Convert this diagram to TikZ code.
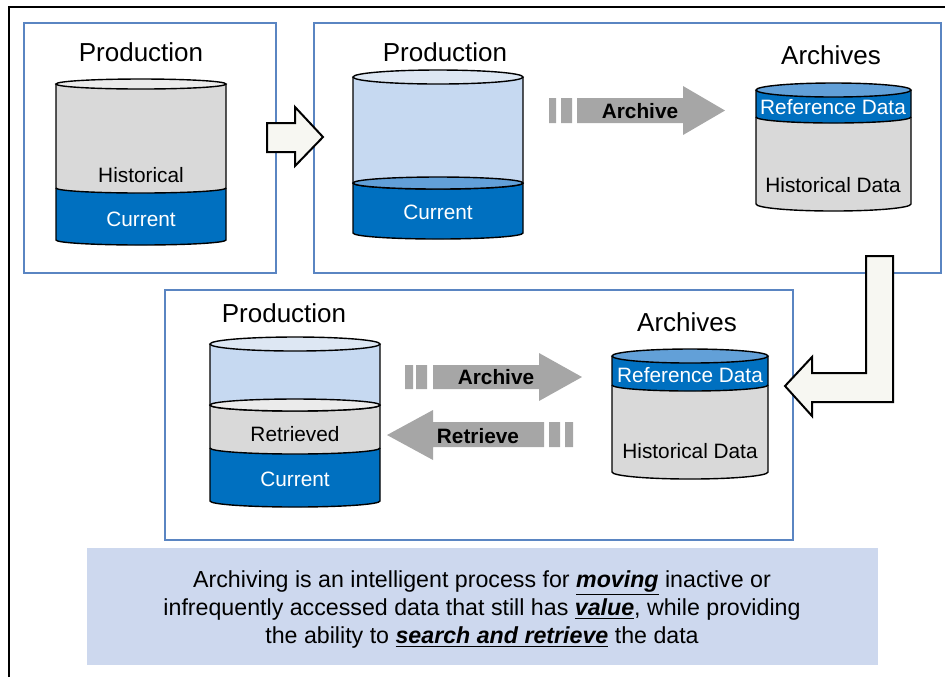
\documentclass[tikz,border=0pt]{standalone}
\usepackage{fontspec}
\setmainfont{Liberation Sans}

\definecolor{boxblue}{HTML}{5A85C2}
\definecolor{darkband}{HTML}{0070C0}
\definecolor{midband}{HTML}{62A0D8}
\definecolor{paleblue}{HTML}{C6D9F1}
\definecolor{palertop}{HTML}{DDE7F3}
\definecolor{bodygray}{HTML}{D9D9D9}
\definecolor{topgray}{HTML}{EBEBEB}
\definecolor{flowgray}{HTML}{A6A6A6}
\definecolor{notefill}{HTML}{CDD8EE}
\definecolor{hollow}{HTML}{F7F7F2}

% one band of a cylinder: fill, left x, right x, top y, bottom y, arc height
\newcommand{\cylband}[6]{%
  \fill[#1] (#2,#4) -- (#2,#5) arc[start angle=180,end angle=0,x radius={(#3-#2)/2},y radius=#6] -- (#3,#4) -- cycle;
  \draw (#2,#4) -- (#2,#5) arc[start angle=180,end angle=0,x radius={(#3-#2)/2},y radius=#6] -- (#3,#4);}
% a full ellipse across the cylinder
\newcommand{\cyllid}[5]{%
  \filldraw[fill=#1] ({(#2+#3)/2},#4) ellipse [x radius={(#3-#2)/2},y radius=#5];}

\begin{document}
\begin{tikzpicture}[x=0.5pt,y=-0.5pt,line width=0.7pt,
  frame/.style={draw=boxblue,line width=1.2pt},
  bigarrow/.style={fill=hollow,draw=black,line width=1pt,line join=miter},
  flow/.style={fill=flowgray},
  title/.style={inner sep=0pt,font=\fontsize{13}{15}\selectfont},
  intext/.style={inner sep=0pt,font=\fontsize{10.4}{12}\selectfont},
  flowtext/.style={inner sep=0pt,font=\bfseries\fontsize{10.4}{12}\selectfont}]
  \useasboundingbox (0,0) rectangle (945,677);
  \draw[line width=1pt] (9,677) -- (9,7) -- (945,7);

  % the three panels
  \draw[frame] (24,23) rectangle (276,273);
  \draw[frame] (314,23) rectangle (941,273);
  \draw[frame] (165,290) rectangle (793,540);

  % panel 1
  \node[title] (prodA) at (141,52) {Production};
  \cylband{darkband}{56}{226}{188}{240}{5}
  \cylband{bodygray}{56}{226}{84}{188}{5}
  \cyllid{topgray}{56}{226}{84}{5}
  \node[intext] (histA) at (141,175) {Historical};
  \node[intext,white] (curA) at (141,219) {Current};

  % panel 2
  \node[title] (prodB) at (445,52) {Production};
  \cylband{darkband}{353}{523}{183}{233}{6}
  \cylband{paleblue}{353}{523}{77}{183}{6}
  \cyllid{midband}{353}{523}{183}{6}
  \cyllid{palertop}{353}{523}{77}{7}
  \node[intext,white] (curB) at (438,212) {Current};

  \node[title] (archB) at (831,55) {Archives};
  \cylband{bodygray}{756}{911}{117}{204}{7}
  \cylband{darkband}{756}{911}{90}{117}{6}
  \cyllid{midband}{756}{911}{90}{7}
  \node[intext,white] (refB) at (833,107) {Reference Data};
  \node[intext] (histB) at (833,185) {Historical Data};

  \fill[flow] (549,98) rectangle (556,123) (561,98) rectangle (572,123);
  \fill[flow] (577,98) -- (683,98) -- (683,86) -- (725,110.5) -- (683,135) -- (683,123) -- (577,123) -- cycle;
  \node[flowtext] (moveB) at (640,111) {Archive};

  % panel 3
  \node[title] (prodC) at (284,313) {Production};
  \cylband{darkband}{210}{380}{448}{501}{6}
  \cylband{bodygray}{210}{380}{405}{448}{6}
  \cylband{paleblue}{210}{380}{344}{405}{6}
  \cyllid{topgray}{210}{380}{405}{6}
  \cyllid{palertop}{210}{380}{344}{7}
  \node[intext] (retC) at (295,434) {Retrieved};
  \node[intext,white] (curC) at (295,479) {Current};

  \node[title] (archC) at (687,322) {Archives};
  \cylband{bodygray}{612}{768}{385}{472}{7}
  \cylband{darkband}{612}{768}{356}{385}{6}
  \cyllid{midband}{612}{768}{356}{7}
  \node[intext,white] (refC) at (690,375) {Reference Data};
  \node[intext] (histC) at (690,451) {Historical Data};

  \fill[flow] (405,365) rectangle (413,389) (416,365) rectangle (427,389);
  \fill[flow] (433,365) -- (539,365) -- (539,353) -- (582,377) -- (539,401) -- (539,389) -- (433,389) -- cycle;
  \node[flowtext] (moveC) at (496,377) {Archive};

  \fill[flow] (549,422) rectangle (560,447) (565,422) rectangle (573,447);
  \fill[flow] (544,422) -- (433,422) -- (433,410) -- (387,435) -- (433,460) -- (433,447) -- (544,447) -- cycle;
  \node[flowtext] (backC) at (478,436) {Retrieve};

  % hollow arrows between the panels
  \draw[bigarrow] (267,123) -- (295,123) -- (295,107) -- (323,137) -- (295,166) -- (295,152) -- (267,152) -- cycle;
  \draw[bigarrow] (866,256) -- (893,256) -- (893,402) -- (812,402) -- (812,416) -- (785,386) -- (812,357) -- (812,373) -- (866,373) -- cycle;

  % note
  \fill[notefill] (87,548) rectangle (878,665);
  \node[align=center,inner sep=0pt,font=\fontsize{11.6}{14}\selectfont] (note) at (482,609)
    {Archiving is an intelligent process for \textbf{\textit{\underline{moving}}} inactive or\\
     infrequently accessed data that still has \textbf{\textit{\underline{value}}}, while providing\\
     the ability to \textbf{\textit{\underline{search and retrieve}}} the data};
\end{tikzpicture}
\end{document}
